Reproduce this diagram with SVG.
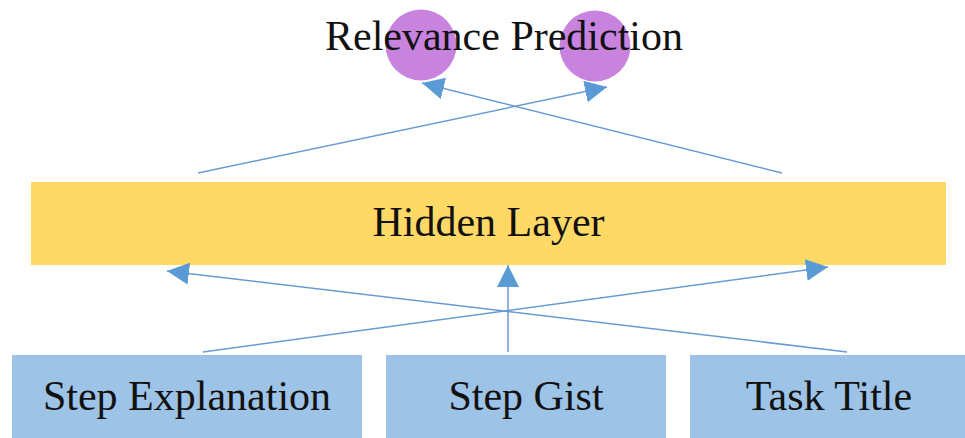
<svg xmlns="http://www.w3.org/2000/svg" width="965" height="438" viewBox="0 0 965 438">
  <defs>
    <style>
      .lbl { font-family: "Liberation Serif", "Times New Roman", serif; font-size: 42px; fill: #111; text-anchor: middle; }
      .box { fill: #9DC3E6; }
      .hid { fill: #FFD966; }
      .out { fill: #C883DE; }
      .edge { stroke: #6A9BD3; stroke-width: 1.5; fill: none; marker-end: url(#ah); }
    </style>
    <marker id="ah" viewBox="0 0 10 10" refX="10" refY="5" markerWidth="22" markerHeight="22" markerUnits="userSpaceOnUse" orient="auto">
      <path d="M0,0 L10,5 L0,10 z" fill="#5B9BD5"/>
    </marker>
  </defs>
  <rect width="965" height="438" fill="#ffffff"/>

  <g id="out1"><circle class="out" cx="421" cy="45" r="35.5"/></g>
  <g id="out2"><circle class="out" cx="595" cy="46" r="35.5"/></g>
  <g id="title"><text class="lbl" x="504" y="50">Relevance Prediction</text></g>

  <g id="hidden">
    <rect class="hid" x="31" y="182" width="915" height="83"/>
    <text class="lbl" x="488.5" y="236">Hidden Layer</text>
  </g>

  <g id="stepExplanation">
    <rect class="box" x="12" y="355" width="350" height="83"/>
    <text class="lbl" x="187" y="410">Step Explanation</text>
  </g>
  <g id="stepGist">
    <rect class="box" x="386" y="355" width="280" height="83"/>
    <text class="lbl" x="526" y="410">Step Gist</text>
  </g>
  <g id="taskTitle">
    <rect class="box" x="690" y="355" width="275" height="83"/>
    <text class="lbl" x="829" y="410">Task Title</text>
  </g>

  <g id="connectors">
    <line class="edge" x1="198" y1="173" x2="607" y2="87"/>
    <line class="edge" x1="782" y1="173" x2="422" y2="83"/>
    <line class="edge" x1="203" y1="352" x2="828" y2="267"/>
    <line class="edge" x1="847" y1="352" x2="167" y2="271"/>
    <line class="edge" x1="508" y1="352" x2="508" y2="265"/>
  </g>
</svg>
